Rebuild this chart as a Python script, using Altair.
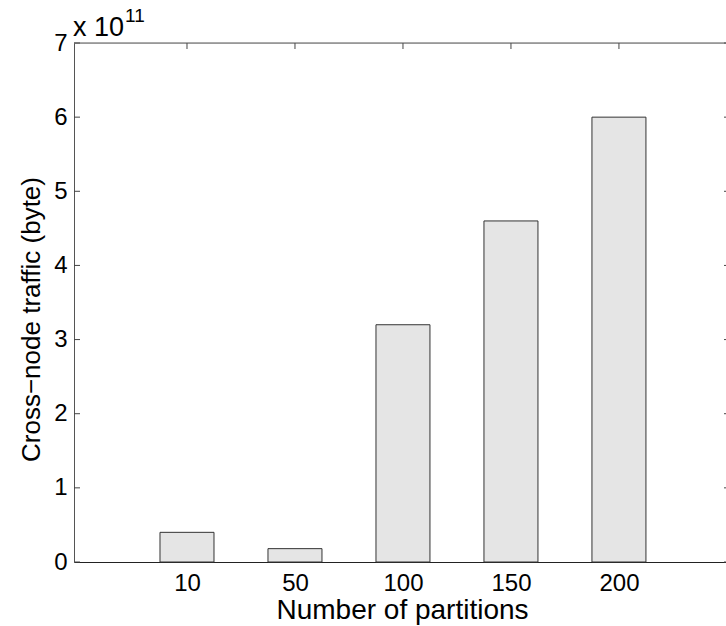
import altair as alt
import pandas as pd

# ---- data ----
partitions = ["10", "50", "100", "150", "200"]
traffic = [0.40e11, 0.18e11, 3.20e11, 4.60e11, 6.00e11]
y_ticks = [0, 1e11, 2e11, 3e11, 4e11, 5e11, 6e11, 7e11]
x_positions = [1, 2, 3, 4, 5]

FONT = "Liberation Sans"
W, H = 652, 519
XMAX = 5.945
BAR_HALF = 0.25

df = pd.DataFrame({"partition": partitions, "traffic": traffic, "pos": x_positions})
df["x0"] = df["pos"] - BAR_HALF
df["x1"] = df["pos"] + BAR_HALF
df["base"] = 0.0

ydf = pd.DataFrame({"traffic": y_ticks})
xdf = pd.DataFrame({"x0": x_positions})

xscale = alt.Scale(domain=[0, XMAX], nice=False, zero=False)
yscale = alt.Scale(domain=[0, 7e11], nice=False, zero=True)

label_map = "[" + ",".join("'%s'" % p for p in partitions) + "][datum.value-1]"

xaxis = alt.Axis(
    values=x_positions, labelExpr=label_map, ticks=False, tickSize=0, grid=False,
    labelFont=FONT, labelFontSize=24, labelColor="black", labelBaseline="alphabetic",
    labelPadding=28, labelFlush=False, labelOverlap=False,
    domainColor="#222", domainWidth=1,
    title="Number of partitions", titleFont=FONT, titleFontSize=28, titleFontWeight="normal",
    titleColor="black", titleX=328, titleY=56, titleBaseline="alphabetic", titleAlign="center",
)
yaxis = alt.Axis(
    values=y_ticks, labelExpr="format(datum.value/1e11, 'd')", ticks=False, tickSize=0, grid=False,
    labelFont=FONT, labelFontSize=24, labelColor="black", labelPadding=7, labelFlush=False,
    labelOverlap=False,
    domainColor="#555", domainWidth=1,
    title="Cross−node traffic (byte)", titleFont=FONT, titleFontSize=26, titleFontWeight="normal",
    titleColor="black", titleX=-43, titleY=276, titleAngle=270, titleAlign="center",
    titleBaseline="middle",
)

X = alt.X("x0:Q", scale=xscale, axis=xaxis)
Y = alt.Y("traffic:Q", scale=yscale, axis=yaxis)

bars = alt.Chart(df).mark_bar(fill="#e5e5e5", stroke="#333", strokeWidth=1, orient="vertical").encode(
    x=X, x2="x1:Q", y=Y, y2="base:Q",
)

left_ticks = alt.Chart(ydf).mark_rule(color="#444", strokeWidth=1).encode(
    y=Y, x=alt.value(0), x2=alt.value(6)
)
right_ticks = alt.Chart(ydf).mark_rule(color="#444", strokeWidth=1).encode(
    y=Y, x=alt.value(W - 2), x2=alt.value(W)
)
top_ticks = alt.Chart(xdf).mark_rule(color="#444", strokeWidth=1).encode(
    x=X, y=alt.value(0), y2=alt.value(6)
)
top_border = alt.Chart(xdf.head(1)).mark_rule(color="#555", strokeWidth=1).encode(
    x=alt.value(0), x2=alt.value(W), y=alt.value(0)
)

exp_base = alt.Chart(xdf.head(1)).mark_text(
    text="x 10", font=FONT, fontSize=27, color="black", align="left", baseline="alphabetic"
).encode(x=alt.value(-1), y=alt.value(-7))
exp_pow = alt.Chart(xdf.head(1)).mark_text(
    text="11", font=FONT, fontSize=19, color="black", align="left", baseline="alphabetic"
).encode(x=alt.value(51), y=alt.value(-21))

chart = alt.layer(
    bars, left_ticks, right_ticks, top_ticks, top_border, exp_base, exp_pow
).properties(
    width=W, height=H,
    autosize=alt.AutoSizeParams(type="none"),
    padding={"left": 74, "top": 43, "right": 0, "bottom": 64},
).configure_view(stroke=None).configure(background="white", font=FONT)

chart.save("out.html", embed_options={"renderer": "svg", "actions": False})
